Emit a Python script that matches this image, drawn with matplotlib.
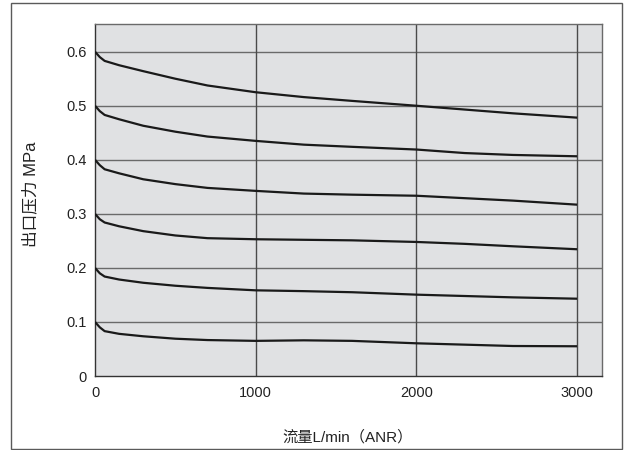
import matplotlib
matplotlib.use("Agg")
import matplotlib.pyplot as plt
from matplotlib.patches import Rectangle

plt.rcParams['font.family'] = ['Liberation Sans', 'Noto Sans CJK SC', 'DejaVu Sans']

# Data (flow L/min (ANR) vs outlet pressure MPa)
flow = [0, 30, 60, 150, 300, 500, 700, 1000, 1300, 1600, 2000, 2300, 2600, 3000]
p06 = [0.600, 0.590, 0.583, 0.575, 0.564, 0.550, 0.5375, 0.525, 0.516, 0.509, 0.500, 0.493, 0.486, 0.478]
p05 = [0.500, 0.490, 0.483, 0.475, 0.463, 0.452, 0.443, 0.435, 0.428, 0.424, 0.419, 0.4125, 0.409, 0.4065]
p04 = [0.400, 0.390, 0.3825, 0.375, 0.364, 0.355, 0.348, 0.3425, 0.3375, 0.3355, 0.3335, 0.329, 0.3245, 0.317]
p03 = [0.300, 0.290, 0.284, 0.277, 0.268, 0.260, 0.255, 0.253, 0.252, 0.251, 0.248, 0.2445, 0.240, 0.2345]
p02 = [0.200, 0.190, 0.184, 0.1785, 0.1725, 0.167, 0.163, 0.1585, 0.157, 0.155, 0.1505, 0.148, 0.1455, 0.143]
p01 = [0.100, 0.090, 0.083, 0.078, 0.0735, 0.069, 0.0665, 0.065, 0.066, 0.065, 0.0605, 0.058, 0.0555, 0.055]
series = [p06, p05, p04, p03, p02, p01]

xticks = [0, 1000, 2000, 3000]
xticklabels = ['0', '1000', '2000', '3000']
yticks = [0, 0.1, 0.2, 0.3, 0.4, 0.5, 0.6]
yticklabels = ['0', '0.1', '0.2', '0.3', '0.4', '0.5', '0.6']
xlabel = '流量L/min（ANR）'
ylabel = '出口压力 MPa'

fig = plt.figure(figsize=(6.29, 4.5), dpi=100)
fig.patches.append(Rectangle((11 / 629, 1 / 450), 611 / 629, 446 / 450,
                             transform=fig.transFigure, fill=False,
                             edgecolor='#5a5a5a', linewidth=1.0))

ax = fig.add_axes([95 / 629, 1 - 376 / 450, (601.7 - 95) / 629, (376 - 24.3) / 450])
ax.set_facecolor('#e0e1e3')
ax.set_xlim(0, 3153)
ax.set_ylim(0, 0.6507)

for yv in yticks[1:]:
    ax.axhline(yv, color='#6a6a6a', linewidth=1.0, zorder=1)
for xv in xticks[1:]:
    ax.axvline(xv, color='#4a4a4a', linewidth=1.0, zorder=1)

for s in series:
    ax.plot(flow, s, color='#1a1a1a', linewidth=1.6, zorder=3, solid_capstyle='butt')

ax.set_xticks(xticks)
ax.set_xticklabels(xticklabels)
ax.set_yticks(yticks)
ax.set_yticklabels(yticklabels)
ax.tick_params(axis='both', length=0, labelsize=10.5, colors='#222222')
ax.tick_params(axis='x', pad=7)
ax.tick_params(axis='y', pad=6)

for side in ['left', 'bottom']:
    ax.spines[side].set_color('#333333')
    ax.spines[side].set_linewidth(1.0)
for side in ['top', 'right']:
    ax.spines[side].set_color('#6a6a6a')
    ax.spines[side].set_linewidth(1.0)

fig.text(347.5 / 629, 1 - 437.5 / 450, xlabel, ha='center', va='center', fontsize=11, color='#222222')
fig.text(30 / 629, 1 - 194 / 450, ylabel, ha='center', va='center', rotation=90, fontsize=12, color='#222222')

fig.savefig('out.png', dpi=100)
